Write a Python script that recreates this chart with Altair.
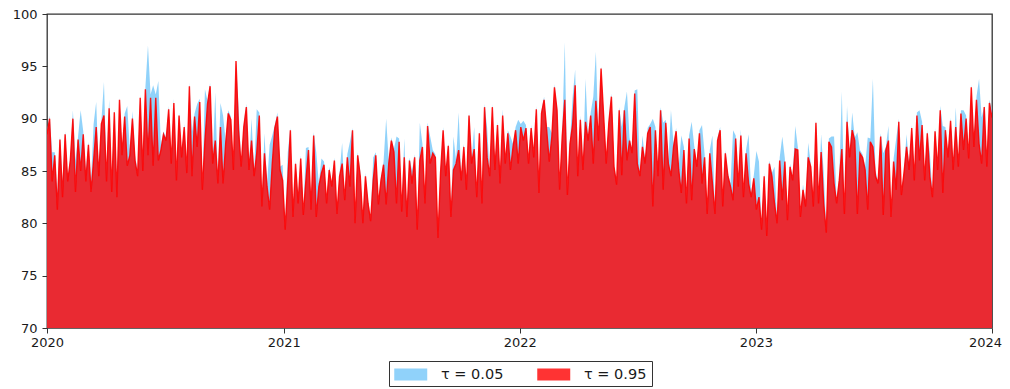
import altair as alt
import pandas as pd

# ---- data (one value every ~4 days, 2020-01-01 .. 2024-01-01) ----
series_labels = ["τ = 0.05", "τ = 0.95"]
year_ticks = [2020, 2021, 2022, 2023, 2024]
y_ticks = [70, 75, 80, 85, 90, 95, 100]

red_s1 = [88.5, 90.0, 84.0, 86.5, 81.3, 88.0, 82.5, 88.5, 84.0, 86.0, 90.0, 83.0, 88.0, 85.0, 88.5, 84.0,
          87.5, 83.0, 86.0, 89.2, 84.5, 89.5, 90.3, 84.0, 91.0, 83.0, 90.6, 82.5, 91.8, 86.5, 90.2, 85.5,
          86.5, 90.0, 86.0, 84.5, 92.0, 85.0, 92.8, 86.5, 92.0, 85.5, 92.0, 86.0, 87.0, 88.5]
red_s2 = [87.9, 90.9, 85.7, 91.5, 84.1, 90.3, 86.3, 89.2, 84.8, 93.1, 84.5, 90.2, 87.3, 91.6, 83.2, 87.9,
          91.4, 93.1, 85.7, 87.9, 83.8, 89.2, 83.8, 87.6, 90.5, 89.9, 85.1, 95.5, 88.9, 85.4, 89.2, 91.1,
          85.1, 87.9, 84.5, 86.7, 90.3, 81.6, 86.7, 83.5, 81.3, 85.7, 89.1, 90.2, 85.1, 84.1]
red_s3 = [79.4, 84.1, 88.9, 80.6, 85.7, 81.9, 86.2, 80.8, 84.1, 87.0, 81.3, 88.4, 80.6, 83.5, 84.8, 85.6,
          81.9, 85.1, 83.5, 86.0, 80.9, 84.5, 85.7, 82.2, 86.3, 83.5, 88.9, 80.0, 86.5, 84.5, 80.0, 84.5,
          81.9, 80.2, 84.1, 86.5, 81.8, 84.1, 85.6, 81.8, 85.7, 87.9, 86.8, 81.9, 87.8, 81.1]
red_s4 = [86.3, 80.6, 86.0, 83.8, 86.3, 79.4, 86.0, 87.3, 81.9, 89.3, 85.7, 86.7, 86.3, 78.6, 84.8, 88.9,
          84.5, 87.4, 80.6, 85.1, 85.7, 87.0, 84.1, 87.3, 83.2, 90.3, 85.7, 87.1, 82.5, 88.6, 81.9, 91.1,
          86.3, 84.5, 91.1, 85.1, 89.4, 83.8, 90.3, 85.7, 88.6, 85.1, 87.3, 88.9, 85.7, 89.2]
red_s5 = [87.9, 89.1, 85.7, 89.1, 86.3, 90.9, 82.9, 90.5, 91.8, 88.9, 85.9, 88.3, 93.0, 90.8, 83.2, 88.3,
          91.8, 82.7, 87.6, 89.4, 93.2, 84.5, 89.9, 85.1, 89.7, 87.9, 90.3, 85.7, 91.7, 87.9, 94.8, 90.3,
          85.7, 89.6, 92.1, 85.4, 83.7, 90.8, 84.6, 90.8, 86.0, 87.9, 86.7, 92.4, 85.7]
red_s6 = [84.5, 87.3, 85.7, 88.6, 89.2, 81.6, 88.9, 84.5, 90.8, 83.2, 89.6, 85.7, 84.5, 87.3, 88.8, 85.1,
          82.9, 87.0, 81.9, 88.1, 82.2, 87.1, 85.4, 88.6, 83.8, 86.3, 80.9, 86.7, 83.9, 80.9, 87.9, 88.9,
          81.6, 86.7, 84.5, 83.5, 82.2, 88.1, 83.5, 88.4, 82.5, 86.7, 83.8, 82.5, 84.3, 81.3]
red_s7 = [82.5, 79.4, 84.5, 78.8, 85.7, 84.5, 81.9, 80.0, 86.0, 82.2, 85.9, 80.3, 85.4, 84.1, 87.1, 87.0,
          80.6, 83.2, 81.6, 86.3, 85.4, 81.6, 89.6, 81.9, 86.8, 81.9, 79.1, 87.8, 87.3, 83.8, 81.9, 84.1,
          87.1, 80.9, 89.7, 86.3, 88.9, 87.9, 80.9, 86.7, 86.3, 85.1, 81.3, 87.8, 87.3]
red_s8 = [84.5, 83.8, 88.3, 80.8, 87.0, 87.9, 80.6, 85.9, 83.2, 89.7, 82.7, 84.8, 87.3, 85.1, 89.1, 84.1,
          90.3, 86.0, 89.4, 84.1, 88.6, 84.5, 82.5, 88.8, 85.1, 90.8, 82.9, 88.9, 86.3, 89.8, 85.1, 89.2,
          85.4, 90.5, 87.0, 90.0, 86.2, 93.0, 87.3, 91.8, 87.6, 85.7, 91.1, 85.4, 91.5, 90.1]

blue_s1 = [88.8, 90.3, 86.8, 86.8, 83.0, 88.3, 84.0, 88.8, 84.3, 86.3, 90.8, 86.0, 88.3, 90.8, 88.8, 85.0,
           87.8, 84.0, 89.5, 91.6, 85.0, 89.8, 93.5, 85.0, 91.8, 84.0, 90.9, 84.0, 92.0, 87.0, 90.5, 91.2,
           87.0, 90.7, 86.5, 85.0, 92.3, 86.0, 93.0, 97.0, 92.3, 93.2, 92.3, 93.6, 87.5, 88.8]
blue_s2 = [88.2, 91.2, 86.0, 91.9, 84.4, 90.6, 86.6, 89.5, 85.1, 93.4, 88.8, 90.5, 91.4, 91.9, 83.5, 92.8,
           91.7, 93.4, 86.0, 92.5, 84.1, 91.5, 90.3, 87.9, 90.8, 90.2, 85.4, 95.5, 91.0, 85.7, 89.5, 91.4,
           85.4, 90.0, 84.8, 90.9, 90.6, 81.9, 88.6, 83.8, 87.5, 88.4, 89.4, 90.6, 85.4, 85.6]
blue_s3 = [79.7, 86.8, 89.1, 80.9, 86.0, 82.2, 86.5, 81.1, 87.2, 87.3, 81.6, 88.7, 86.8, 83.8, 86.2, 85.9,
           82.2, 85.4, 83.8, 86.3, 81.2, 84.8, 87.7, 82.5, 86.6, 87.8, 89.1, 80.3, 86.8, 85.0, 80.3, 84.8,
           82.2, 80.5, 86.3, 86.8, 82.1, 84.4, 85.9, 90.0, 86.0, 88.2, 87.1, 88.3, 88.1, 81.4]
blue_s4 = [88.1, 80.9, 86.3, 85.0, 86.6, 79.7, 89.6, 87.6, 82.2, 89.6, 88.3, 87.0, 86.6, 78.9, 85.1, 89.2,
           84.8, 87.7, 80.9, 88.3, 86.0, 90.6, 84.4, 87.6, 83.5, 90.6, 86.0, 89.2, 82.8, 88.9, 82.2, 91.4,
           89.1, 84.8, 91.4, 85.4, 89.7, 84.1, 90.9, 86.0, 88.9, 88.3, 87.6, 89.2, 89.9, 89.5]
blue_s5 = [89.8, 89.4, 86.0, 89.4, 86.6, 91.2, 83.2, 90.8, 92.1, 89.2, 89.2, 88.6, 93.3, 91.1, 83.5, 88.6,
           97.3, 83.0, 87.9, 92.0, 94.7, 84.8, 90.3, 85.4, 93.8, 88.2, 90.6, 92.1, 96.4, 88.2, 95.0, 90.6,
           86.0, 89.9, 92.4, 85.7, 84.0, 91.1, 89.2, 91.1, 92.6, 88.2, 87.0, 92.7, 92.8]
blue_s6 = [84.8, 88.4, 86.0, 89.1, 89.5, 90.0, 89.2, 84.8, 91.1, 89.6, 89.9, 86.0, 90.8, 87.6, 89.1, 85.4,
           88.4, 87.3, 82.2, 88.4, 89.7, 87.4, 85.7, 88.9, 89.4, 86.6, 81.2, 87.0, 88.4, 81.2, 88.2, 89.2,
           81.9, 87.0, 84.8, 83.8, 88.9, 88.4, 83.8, 89.0, 82.8, 87.0, 88.5, 82.8, 84.6, 86.9]
blue_s7 = [85.9, 79.7, 84.8, 79.1, 86.0, 84.8, 85.4, 80.3, 86.3, 88.3, 86.2, 80.6, 85.7, 84.4, 89.3, 87.3,
           80.9, 83.7, 81.9, 87.7, 85.7, 81.9, 89.9, 82.2, 88.5, 84.9, 79.4, 88.1, 88.3, 88.3, 82.2, 84.4,
           92.6, 81.2, 91.2, 86.6, 90.6, 88.2, 88.7, 87.0, 86.6, 85.4, 88.2, 88.1, 93.8]
blue_s8 = [85.0, 84.1, 88.6, 86.7, 87.3, 89.3, 80.9, 86.2, 88.1, 90.0, 83.0, 85.1, 88.5, 85.4, 89.4, 84.4,
           90.6, 90.8, 89.7, 84.4, 88.9, 86.7, 82.8, 89.1, 85.4, 91.2, 89.3, 89.2, 86.6, 90.1, 85.4, 91.1,
           85.7, 90.8, 90.8, 90.3, 86.5, 93.3, 87.6, 92.1, 93.8, 90.1, 91.2, 85.7, 91.8, 90.8]

red = red_s1 + red_s2 + red_s3 + red_s4 + red_s5 + red_s6 + red_s7 + red_s8
blue = blue_s1 + blue_s2 + blue_s3 + blue_s4 + blue_s5 + blue_s6 + blue_s7 + blue_s8
n = min(len(red), len(blue))
red, blue = red[:n], blue[:n]

dates = pd.date_range("2020-01-01", "2024-01-01", periods=n).strftime("%Y-%m-%dT%H:%M:%SZ")

df = pd.concat([
    pd.DataFrame({"date": dates, "value": blue, "series": series_labels[0]}),
    pd.DataFrame({"date": dates, "value": red, "series": series_labels[1]}),
], ignore_index=True)
df_line = pd.DataFrame({"date": dates, "value": red})

x_enc = alt.X(
    "date:T",
    title=None,
    scale=alt.Scale(
        type="utc",
        domain=[alt.DateTime(year=2020, month=1, date=1, utc=True),
                alt.DateTime(year=2024, month=1, date=1, utc=True)],
        nice=False,
    ),
    axis=alt.Axis(
        values=[alt.DateTime(year=y, month=1, date=1, utc=True) for y in year_ticks],
        format="%Y", labelFontSize=13, tickSize=5, labelPadding=3, grid=False, domain=False,
        labelFlush=False,
        # keep the last year label inside the page
        labelOffset=alt.expr("datum.value >= 1704000000000 ? -7 : 0"),
    ),
)
y_enc = alt.Y(
    "value:Q",
    title=None,
    stack=None,
    scale=alt.Scale(domain=[70, 100], nice=False, zero=False),
    axis=alt.Axis(values=y_ticks, labelFontSize=13, tickSize=5, labelPadding=5, grid=False, domain=False),
)

areas = alt.Chart(df).mark_area(interpolate="linear", clip=True).encode(
    x=x_enc,
    y=y_enc,
    color=alt.Color(
        "series:N",
        scale=alt.Scale(domain=series_labels, range=["rgba(135,206,250,0.92)", "rgba(255,0,0,0.8)"]),
        legend=alt.Legend(
            title=None, orient="none", legendX=342, legendY=347, direction="horizontal",
            symbolType="M-1,-0.72H3V0.72H-1Z", symbolSize=272, symbolStrokeWidth=0,
            labelFontSize=14.5, labelFont="DejaVu Sans", labelColor="#1a1a1a", labelOffset=30,
            columnPadding=33, strokeColor="#333", padding=5, fillColor="white", labelLimit=200,
        ),
    ),
)

line = alt.Chart(df_line).mark_line(color="#ff0000", strokeWidth=1.4, opacity=0.9, clip=True).encode(
    x=alt.X("date:T"),
    y=alt.Y("value:Q"),
)

chart = alt.layer(areas, line).properties(
    width=945, height=314,
    autosize=alt.AutoSizeParams(type="none"),
    padding={"left": 39, "top": 6, "right": 10, "bottom": 59},
).configure_view(
    stroke="#333", strokeWidth=1.3
).configure_axis(
    labelFont="DejaVu Sans", labelColor="#1a1a1a", tickColor="#333", tickWidth=1
)

chart.save("out.html", embed_options={"renderer": "svg", "actions": False})
